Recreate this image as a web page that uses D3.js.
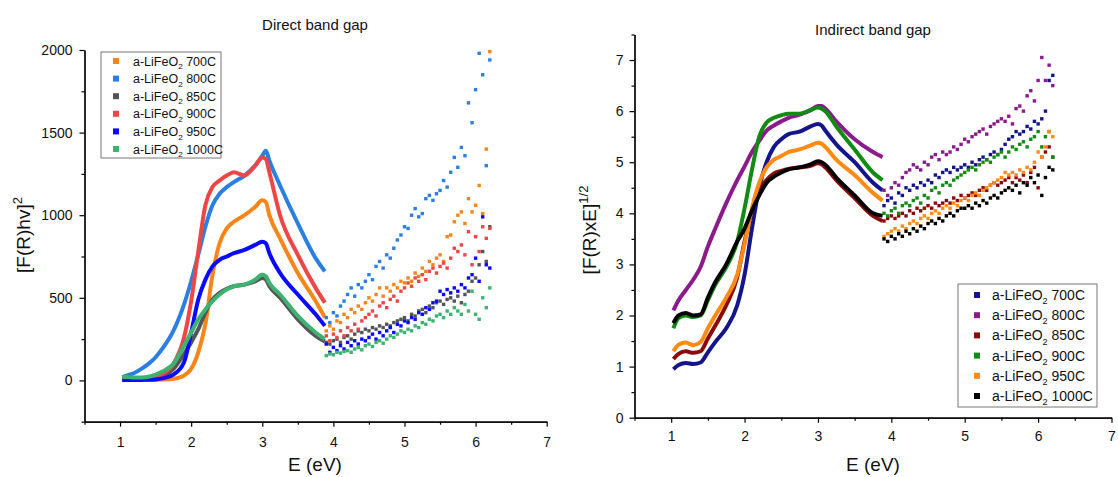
<!DOCTYPE html>
<html>
<head>
<meta charset="utf-8">
<script src="https://cdn.jsdelivr.net/npm/d3@7"></script>
<style>
  body { margin: 0; background: #fff; }
  svg { font-family: "Liberation Sans", Arial, sans-serif; }
  .axis path, .axis line { stroke: #000; stroke-width: 1.2; }
  .axis text { font-size: 14px; fill: #111; }
  .title { font-size: 15px; fill: #111; text-anchor: middle; }
  .label { font-size: 19px; fill: #111; text-anchor: middle; }
  .legend-box { fill: #fff; stroke: #777; stroke-width: 1; }
</style>
</head>
<body>
<svg width="1118" height="477"></svg>
<script>
// **** Data ****

var sampleNames = ['700C', '800C', '850C', '900C', '950C', '1000C'];
var directColors = ['#f7851a', '#2a7fe0', '#555555', '#ee4646', '#0a0aff', '#3cb371'];
var indirectColors = ['#14148c', '#8b1a8b', '#8b0a0a', '#128b12', '#ff8a14', '#000000'];

var xMajorTicks = [1, 2, 3, 4, 5, 6, 7];
var xMinorTicks = [0.5, 1.5, 2.5, 3.5, 4.5, 5.5, 6.5];
var directMajorTicks = [0, 500, 1000, 1500, 2000];
var directMinorTicks = [-250, 250, 750, 1250, 1750];
var indirectMajorTicks = [0, 1, 2, 3, 4, 5, 6, 7];
var indirectMinorTicks = [0.5, 1.5, 2.5, 3.5, 4.5, 5.5, 6.5, 7.5];

// energies of the dense (smooth) part and the noisy part
var eSmooth = [1.03, 1.1, 1.2, 1.3, 1.4, 1.5, 1.6, 1.75, 1.9, 2.0, 2.1, 2.2, 2.3, 2.4, 2.5, 2.6, 2.75, 2.9, 3.0, 3.05, 3.1, 3.25, 3.5, 3.75, 3.88];
var eNoisy = [3.90, 3.95, 4.00, 4.05, 4.10, 4.15, 4.20, 4.25, 4.30, 4.35, 4.40, 4.45, 4.50, 4.55, 4.60, 4.65, 4.70, 4.75, 4.80, 4.85, 4.90, 4.95,
  5.00, 5.05, 5.10, 5.15, 5.20, 5.25, 5.30, 5.35, 5.40, 5.45, 5.50, 5.55, 5.60, 5.65, 5.70, 5.75, 5.80, 5.85, 5.90, 5.95, 6.00, 6.05, 6.10, 6.15, 6.20];

// Direct band gap [F(R)hv]^2
var direct700Smooth = [2, 2, 2, 3, 3, 4, 5, 10, 30, 70, 170, 340, 640, 830, 920, 960, 1000, 1050, 1090, 1080, 1000, 860, 650, 480, 380];
var direct800Smooth = [20, 30, 45, 70, 100, 140, 195, 300, 460, 600, 760, 930, 1060, 1130, 1170, 1200, 1240, 1300, 1360, 1390, 1330, 1180, 950, 740, 660];
var direct850Smooth = [10, 8, 8, 8, 10, 15, 25, 70, 160, 230, 310, 410, 490, 530, 555, 570, 580, 600, 620, 610, 570, 500, 370, 270, 235];
var direct900Smooth = [5, 5, 5, 8, 12, 20, 40, 100, 260, 480, 780, 1060, 1170, 1210, 1240, 1260, 1240, 1300, 1350, 1340, 1260, 1000, 760, 560, 470];
var direct950Smooth = [2, 2, 2, 3, 4, 6, 12, 35, 110, 290, 490, 610, 690, 730, 750, 770, 790, 820, 840, 830, 770, 650, 520, 400, 330];
var direct1000Smooth = [20, 20, 18, 18, 22, 35, 55, 100, 210, 290, 370, 430, 480, 520, 550, 570, 580, 610, 640, 630, 590, 520, 390, 290, 250];

var direct700Noisy = [300, 330, 310, 360, 350, 400, 380, 430, 410, 450, 430, 470, 500, 480, 520, 560, 510, 560, 540, 580, 560, 600,
  590, 620, 600, 650, 630, 680, 660, 720, 700, 740, 760, 720, 870, 880, 960, 1000, 1020, 950, 1100, 1020, 1060, 1180, 1010, 1400, 1990];
var direct800Noisy = [380, 350, 410, 390, 450, 480, 520, 560, 510, 580, 560, 600, 640, 610, 690, 720, 680, 760, 740, 800, 850, 880,
  930, 920, 1000, 1040, 990, 1010, 1100, 1120, 1090, 1130, 1150, 1210, 1170, 1260, 1350, 1290, 1410, 1360, 1680, 1560, 1760, 1980, 1850, 1300, 1940];
var direct850Noisy = [230, 220, 240, 250, 230, 260, 270, 250, 280, 300, 290, 310, 300, 320, 310, 330, 320, 340, 330, 350, 360, 370,
  380, 360, 400, 390, 420, 430, 410, 450, 440, 470, 480, 460, 490, 500, 480, 510, 470, 520, 540, 600, 620, 700, 780, 720, 930];
var direct900Noisy = [270, 240, 280, 260, 300, 270, 320, 300, 340, 310, 360, 380, 400, 420, 390, 450, 470, 440, 490, 510, 480, 540,
  560, 590, 570, 620, 600, 640, 610, 660, 680, 650, 690, 710, 680, 740, 800, 780, 820, 760, 900, 700, 870, 780, 930, 860, 920];
var direct950Noisy = [220, 170, 200, 180, 210, 190, 230, 210, 240, 220, 250, 240, 260, 280, 250, 290, 270, 300, 320, 290, 340, 330,
  360, 350, 380, 370, 410, 400, 440, 430, 470, 480, 540, 520, 550, 530, 560, 540, 580, 560, 620, 640, 740, 600, 990, 700, 680];
var direct1000Noisy = [150, 160, 155, 170, 165, 175, 180, 170, 190, 200, 185, 210, 220, 205, 230, 240, 225, 250, 270, 260, 280, 300,
  290, 310, 300, 330, 320, 350, 340, 370, 360, 390, 400, 380, 420, 400, 440, 420, 400, 460, 420, 540, 400, 370, 500, 440, 560];

// Indirect band gap [F(R)xE]^1/2
var indirect700Smooth = [0.95, 1.03, 1.07, 1.05, 1.08, 1.28, 1.48, 1.75, 2.2, 2.8, 3.7, 4.5, 5.0, 5.3, 5.45, 5.55, 5.6, 5.7, 5.75, 5.72, 5.62, 5.35, 5.0, 4.6, 4.45];
var indirect800Smooth = [2.1, 2.3, 2.5, 2.7, 2.95, 3.35, 3.7, 4.2, 4.65, 4.92, 5.2, 5.42, 5.62, 5.72, 5.8, 5.87, 5.93, 6.02, 6.1, 6.1, 6.05, 5.8, 5.45, 5.2, 5.1];
var indirect850Smooth = [1.15, 1.25, 1.3, 1.27, 1.3, 1.55, 1.8, 2.2, 2.75, 3.45, 4.05, 4.45, 4.65, 4.78, 4.83, 4.87, 4.9, 4.93, 4.98, 4.96, 4.9, 4.65, 4.3, 3.95, 3.85];
var indirect900Smooth = [1.75, 1.95, 2.0, 1.97, 2.0, 2.3, 2.6, 2.95, 3.45, 4.1, 4.85, 5.5, 5.78, 5.87, 5.92, 5.95, 5.95, 6.02, 6.07, 6.05, 6.0, 5.7, 5.25, 4.8, 4.65];
var indirect950Smooth = [1.3, 1.43, 1.47, 1.42, 1.48, 1.75, 2.0, 2.35, 2.8, 3.4, 4.1, 4.6, 4.9, 5.05, 5.12, 5.2, 5.25, 5.33, 5.38, 5.36, 5.3, 5.05, 4.75, 4.4, 4.25];
var indirect1000Smooth = [1.85, 2.0, 2.05, 2.0, 2.02, 2.35, 2.65, 3.0, 3.45, 3.7, 4.05, 4.35, 4.6, 4.72, 4.8, 4.86, 4.9, 4.96, 5.02, 5.0, 4.95, 4.7, 4.35, 4.0, 3.95];

var indirect700Noisy = [4.15, 4.25, 4.3, 4.2, 4.4, 4.35, 4.5, 4.45, 4.55, 4.5, 4.6, 4.55, 4.65, 4.6, 4.75, 4.7, 4.8, 4.85, 4.8, 4.9, 4.85, 4.9,
  4.95, 4.9, 5.0, 4.95, 5.05, 5.1, 5.05, 5.15, 5.2, 5.15, 5.25, 5.35, 5.45, 5.5, 5.6, 5.55, 5.6, 5.7, 5.65, 5.8, 5.75, 5.85, 6.0, 6.6, 6.7];
var indirect800Noisy = [4.45, 4.35, 4.5, 4.6, 4.55, 4.7, 4.8, 4.85, 4.95, 4.9, 4.85, 5.0, 4.95, 5.1, 5.15, 5.05, 5.2, 5.15, 5.2, 5.3, 5.25, 5.35,
  5.45, 5.4, 5.5, 5.55, 5.6, 5.65, 5.55, 5.7, 5.75, 5.8, 5.85, 5.8, 5.9, 5.75, 6.05, 6.1, 6.0, 6.3, 6.4, 6.2, 6.6, 7.05, 6.6, 6.9, 6.5];
var indirect850Noisy = [3.85, 3.9, 3.95, 3.9, 3.95, 4.0, 3.95, 4.05, 4.0, 4.1, 4.05, 4.1, 4.15, 4.1, 4.2, 4.15, 4.2, 4.25, 4.2, 4.3, 4.25, 4.35,
  4.3, 4.35, 4.4, 4.35, 4.45, 4.5, 4.45, 4.55, 4.6, 4.55, 4.6, 4.65, 4.7, 4.6, 4.7, 4.65, 4.75, 4.6, 4.8, 4.9, 4.5, 5.1, 5.2, 5.3, 5.1];
var indirect900Noisy = [4.0, 3.95, 4.05, 4.1, 4.0, 4.15, 4.2, 4.15, 4.25, 4.3, 4.2, 4.35, 4.3, 4.45, 4.5, 4.4, 4.55, 4.6, 4.55, 4.65, 4.7, 4.75,
  4.8, 4.85, 4.9, 4.85, 4.95, 5.0, 5.05, 5.0, 5.1, 5.15, 5.2, 5.1, 5.2, 5.3, 5.25, 5.35, 5.4, 5.3, 5.45, 5.5, 5.6, 5.3, 5.5, 5.6, 5.1];
var indirect950Noisy = [3.55, 3.6, 3.65, 3.7, 3.65, 3.75, 3.7, 3.8, 3.85, 3.8, 3.9, 3.95, 3.9, 4.0, 4.05, 4.0, 4.1, 4.15, 4.1, 4.2, 4.15, 4.25,
  4.3, 4.25, 4.35, 4.4, 4.35, 4.45, 4.5, 4.55, 4.6, 4.65, 4.7, 4.8, 4.75, 4.8, 4.75, 4.85, 4.8, 4.9, 4.85, 5.0, 5.2, 5.1, 5.3, 5.6, 5.5];
var indirect1000Noisy = [3.5, 3.45, 3.55, 3.5, 3.6, 3.55, 3.65, 3.6, 3.7, 3.65, 3.75, 3.7, 3.8, 3.85, 3.8, 3.9, 3.85, 3.95, 4.0, 3.95, 4.05, 4.1,
  4.1, 4.15, 4.1, 4.2, 4.15, 4.25, 4.2, 4.3, 4.35, 4.3, 4.4, 4.45, 4.5, 4.45, 4.55, 4.4, 4.6, 4.55, 4.7, 4.6, 4.75, 4.35, 4.7, 4.9, 4.85];

var directSmooth = [direct700Smooth, direct800Smooth, direct850Smooth, direct900Smooth, direct950Smooth, direct1000Smooth];
var directNoisy = [direct700Noisy, direct800Noisy, direct850Noisy, direct900Noisy, direct950Noisy, direct1000Noisy];
var indirectSmooth = [indirect700Smooth, indirect800Smooth, indirect850Smooth, indirect900Smooth, indirect950Smooth, indirect1000Smooth];
var indirectNoisy = [indirect700Noisy, indirect800Noisy, indirect850Noisy, indirect900Noisy, indirect950Noisy, indirect1000Noisy];

// **** Scales ****

var xDirect = d3.scaleLinear().domain([0.5, 7]).range([84.5, 546.7]);
var yDirect = d3.scaleLinear().domain([-250, 2000]).range([421.7, 50]);
var xIndirect = d3.scaleLinear().domain([0.5, 7]).range([634.5, 1111.5]);
var yIndirect = d3.scaleLinear().domain([0, 7.5]).range([417.7, 34.5]);

var svg = d3.select('svg');
var plain = function (d) { return String(d); };

function drawAxes(xScale, yScale, yMajor, yMinor, xPad, yPad) {
    var y0 = yScale.range()[0];
    var x0 = xScale.range()[0];

    svg.append('g').attr('class', 'axis')
        .attr('transform', 'translate(0,' + y0 + ')')
        .call(d3.axisBottom(xScale).tickValues(xMinorTicks).tickSize(3).tickSizeOuter(0).tickFormat(''));
    svg.append('g').attr('class', 'axis')
        .attr('transform', 'translate(0,' + y0 + ')')
        .call(d3.axisBottom(xScale).tickValues(xMajorTicks).tickSize(5).tickSizeOuter(0)
            .tickPadding(xPad).tickFormat(plain));

    svg.append('g').attr('class', 'axis')
        .attr('transform', 'translate(' + x0 + ',0)')
        .call(d3.axisLeft(yScale).tickValues(yMinor).tickSize(3).tickSizeOuter(0).tickFormat(''));
    svg.append('g').attr('class', 'axis')
        .attr('transform', 'translate(' + x0 + ',0)')
        .call(d3.axisLeft(yScale).tickValues(yMajor).tickSize(5).tickSizeOuter(0)
            .tickPadding(yPad).tickFormat(plain));
}

function drawSeries(xScale, yScale, smooth, noisy, colors) {
    var line = d3.line()
        .x(function (d) { return xScale(d[0]); })
        .y(function (d) { return yScale(d[1]); })
        .curve(d3.curveMonotoneX);

    smooth.forEach(function (vals, i) {
        var pts = eSmooth.map(function (e, j) { return [e, vals[j]]; });
        svg.append('path')
            .attr('d', line(pts))
            .style('fill', 'none')
            .style('stroke', colors[i])
            .style('stroke-width', 4)
            .style('stroke-linejoin', 'round');

        var g = svg.append('g');
        g.selectAll('rect')
            .data(eNoisy.map(function (e, j) { return [e, noisy[i][j]]; }))
            .enter().append('rect')
            .attr('x', function (d) { return xScale(d[0]) - 1.7; })
            .attr('y', function (d) { return yScale(d[1]) - 1.7; })
            .attr('width', 3.4)
            .attr('height', 3.4)
            .style('fill', colors[i]);
    });
}

function drawLegend(x, y, w, h, rowY, markX, textX, fontSize, colors) {
    svg.append('rect').attr('class', 'legend-box')
        .attr('x', x).attr('y', y).attr('width', w).attr('height', h);

    sampleNames.forEach(function (name, i) {
        var cy = y + rowY + i * ((h - 2 * rowY) / 5);
        svg.append('rect')
            .attr('x', markX - 3).attr('y', cy - 3)
            .attr('width', 6).attr('height', 6)
            .style('fill', colors[i]);
        var t = svg.append('text')
            .attr('x', textX).attr('y', cy + fontSize * 0.36)
            .style('font-size', fontSize + 'px')
            .style('fill', '#111');
        t.append('tspan').text('a-LiFeO');
        t.append('tspan').text('2').attr('dy', fontSize * 0.3).style('font-size', (fontSize * 0.65) + 'px');
        t.append('tspan').text(' ' + name).attr('dy', -fontSize * 0.3);
    });
}

// **** Direct band gap ****

drawSeries(xDirect, yDirect, directSmooth, directNoisy, directColors);
drawAxes(xDirect, yDirect, directMajorTicks, directMinorTicks, 10, 7);
drawLegend(101, 52, 120, 106, 9, 116, 133, 12.5, directColors);

svg.append('text').attr('class', 'title')
    .attr('x', 315).attr('y', 30)
    .text('Direct band gap');

svg.append('text').attr('class', 'label')
    .attr('x', 315).attr('y', 471)
    .text('E (eV)');

var yl = svg.append('text').attr('class', 'label')
    .attr('transform', 'translate(30,235) rotate(-90)');
yl.append('tspan').text('[F(R)hv]');
yl.append('tspan').text('2').attr('dy', -8).style('font-size', '13px');

// **** Indirect band gap ****

drawSeries(xIndirect, yIndirect, indirectSmooth, indirectNoisy, indirectColors);
drawAxes(xIndirect, yIndirect, indirectMajorTicks, indirectMinorTicks, 8, 6);
drawLegend(958, 284, 139, 123, 11, 977, 992, 14, indirectColors);

svg.append('text').attr('class', 'title')
    .attr('x', 873).attr('y', 35)
    .text('Indirect band gap');

svg.append('text').attr('class', 'label')
    .attr('x', 873).attr('y', 471)
    .text('E (eV)');

var yr = svg.append('text').attr('class', 'label')
    .attr('transform', 'translate(596,230) rotate(-90)');
yr.append('tspan').text('[F(R)xE]');
yr.append('tspan').text('1/2').attr('dy', -8).style('font-size', '13px');
</script>
</body>
</html>
